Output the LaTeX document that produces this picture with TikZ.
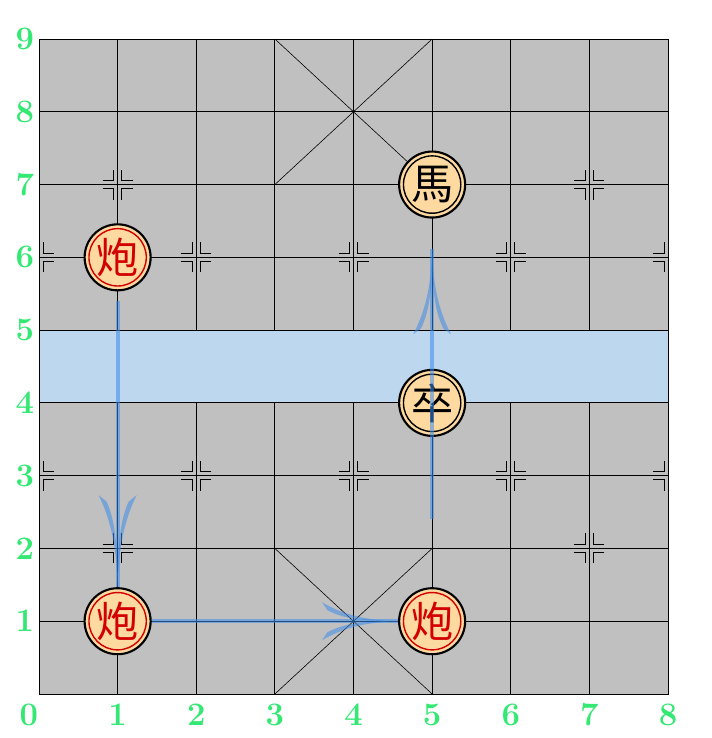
\documentclass[tikz,border=0pt]{standalone}
\usepackage{fontspec}
\newfontfamily\cjkfont{Noto Sans CJK TC}
\definecolor{boardgray}{RGB}{192,192,192}
\definecolor{riverblue}{RGB}{188,215,238}
\definecolor{piecefill}{RGB}{255,218,160}
\definecolor{piecered}{RGB}{210,0,0}
\definecolor{axisgreen}{RGB}{51,232,115}
\definecolor{moveblue}{RGB}{60,140,235}
\begin{document}
\begin{tikzpicture}
[   x=2.3588cm, y=2.1833cm,
    grid/.style={draw=black,line width=0.8pt},
    diag/.style={draw=black,line width=0.5pt},
    axis/.style={text=axisgreen,font=\fontsize{28}{28}\selectfont\bfseries},
    piece/.style={circle,draw=black,line width=1.8pt,fill=piecefill,minimum size=1.98cm,inner sep=0pt,
        text=#1,font=\cjkfont\fontsize{36}{36}\selectfont,
        path picture={\draw[#1,line width=1.2pt] (path picture bounding box.center) circle (0.86cm);}},
    move/.style={draw=moveblue,line width=3.2pt,opacity=0.55},
    pics/movehead/.style={code={
        \fill[moveblue,opacity=0.55,x=#1cm,y=0.57cm] (0,0) .. controls (-0.45,0.04) and (-0.75,0.4) .. (-1,1)
            -- (-0.93,0.58) .. controls (-0.72,0.12) and (-0.45,0.0) .. cycle;
        \fill[moveblue,opacity=0.55,x=#1cm,y=-0.57cm] (0,0) .. controls (-0.45,0.04) and (-0.75,0.4) .. (-1,1)
            -- (-0.93,0.58) .. controls (-0.72,0.12) and (-0.45,0.0) .. cycle;
    }},
    pics/mark/.style={code={
        \foreach \sx in {#1}
            \foreach \sy in {-1,1}
                \draw[black,line width=0.7pt] ({\sx*0.45cm},{\sy*0.12cm}) -- ({\sx*0.12cm},{\sy*0.12cm}) -- ({\sx*0.12cm},{\sy*0.45cm});
    }},
]
    \useasboundingbox (-0.496,-0.6046) rectangle (8.547,9.536);

%%%%%%%%%%%%%%%%%%%% BOARD %%%%%%%%%%%%%%%%%%%%%%%%%%%%%%%%%%%
    \fill[boardgray] (0,0) rectangle (8,9);
    \fill[riverblue] (0,4) rectangle (8,5);
    \foreach \y in {0,...,9}
        \draw[grid] (0,\y) -- (8,\y);
    \foreach \x in {1,...,7}
    {
        \draw[grid] (\x,0) -- (\x,4);
        \draw[grid] (\x,5) -- (\x,9);
    }
    \draw[grid] (0,0) rectangle (8,9);
    \draw[diag] (3,0) -- (5,2) (3,2) -- (5,0);
    \draw[diag] (3,7) -- (5,9) (3,9) -- (5,7);

    % marks
    \foreach \p in {(1,7),(7,7),(2,6),(4,6),(6,6),(2,3),(4,3),(6,3),(1,2),(7,2)}
        \pic at \p {mark={-1,1}};
    \pic at (0,6) {mark=1};
    \pic at (0,3) {mark=1};
    \pic at (8,6) {mark=-1};
    \pic at (8,3) {mark=-1};

%%%%%%%%%%%%%%%%%%%% AXES %%%%%%%%%%%%%%%%%%%%%%%%%%%%%%%%%%%
    \node[axis] (x0) at (-0.13,-0.29) {0};
    \foreach \k in {1,...,8}
        \node[axis] (x\k) at (\k,-0.29) {\k};
    \foreach \k in {1,...,9}
        \node[axis] (y\k) at (-0.18,\k) {\k};

%%%%%%%%%%%%%%%%%%%% PIECES %%%%%%%%%%%%%%%%%%%%%%%%%%%%%%%%%%%
    \node[piece=piecered] (pao1) at (1,6) {炮};
    \node[piece=piecered] (pao2) at (1,1) {炮};
    \node[piece=piecered] (pao3) at (5,1) {炮};
    \node[piece=black] (ma) at (5,7) {馬};
    \node[piece=black] (zu) at (5,4) {卒};

%%%%%%%%%%%%%%%%%%%% MOVES %%%%%%%%%%%%%%%%%%%%%%%%%%%%%%%%%%%
    \draw[move,shorten <=0.3cm] (pao1) -- (pao2);
    \pic[rotate=-90] at (pao2.north) {movehead=2.76};
    \draw[move] (pao2) -- (pao3);
    \pic at (pao3.west) {movehead=2.28};
    \draw[move,shorten <=2.05cm,shorten >=0.92cm] (pao3) -- (ma);
    \pic[rotate=90] at ([yshift=-0.92cm]ma.south) {movehead=2.55};

\end{tikzpicture}
\end{document}
